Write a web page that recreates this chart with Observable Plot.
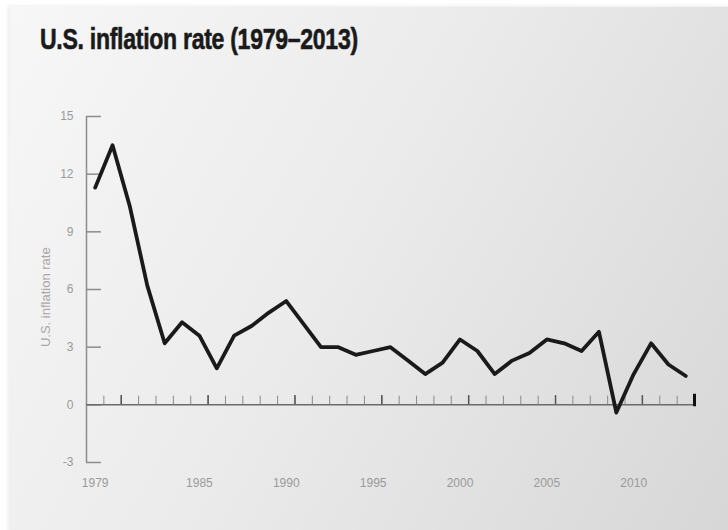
<!DOCTYPE html>
<html>
<head>
<meta charset="utf-8">
<script src="https://cdn.jsdelivr.net/npm/d3@7"></script>
<script src="https://cdn.jsdelivr.net/npm/@observablehq/plot@0.6"></script>
<style>
  html, body { margin: 0; padding: 0; background: #ffffff; }
  #page { position: relative; width: 728px; height: 530px; overflow: hidden; }
  #panel { position: absolute; left: 10px; top: 7px; width: 730px; height: 540px;
           background: linear-gradient(120deg, #f7f7f7 0%, #ebebeb 45%, #d6d6d6 100%);
           box-shadow: -2px -1px 4px rgba(0,0,0,0.08); }
  #title { position: absolute; left: 40px; top: 22px; margin: 0;
           font-family: "Liberation Sans", sans-serif;
           font-weight: bold; font-size: 30px; color: #1a1a1a; letter-spacing: -0.4px;
           transform: scaleX(0.77); transform-origin: left top; white-space: nowrap;
           -webkit-text-stroke: 0.6px #1a1a1a; }
  #chart { position: absolute; left: 0; top: 70px; }
</style>
</head>
<body>
<div id="page">
  <div id="panel"></div>
  <div id="title">U.S. inflation rate (1979–2013)</div>
  <div id="chart"></div>
</div>
<script>
const years = [1979,1980,1981,1982,1983,1984,1985,1986,1987,1988,1989,1990,1991,1992,1993,1994,1995,1996,1997,1998,1999,2000,2001,2002,2003,2004,2005,2006,2007,2008,2009,2010,2011,2012,2013];
const rates = [11.3,13.5,10.3,6.2,3.2,4.3,3.6,1.9,3.6,4.1,4.8,5.4,4.2,3.0,3.0,2.6,2.8,3.0,2.3,1.6,2.2,3.4,2.8,1.6,2.3,2.7,3.4,3.2,2.8,3.8,-0.4,1.6,3.2,2.1,1.5];
const xTickLabels = [1979,1985,1990,1995,2000,2005,2010];
const yTicks = [-3,0,3,6,9,12,15];
const yLabel = "U.S. inflation rate";

const data = years.map((year, i) => ({year, rate: rates[i]}));
const xMin = 1978.5, xMax = 2013.5;
const minorTicks = years.slice(0, -1).map(y => y + 0.5);
const majorTicks = minorTicks.filter(t => (t - 0.5) % 5 === 0);

const font = "'Liberation Sans', sans-serif";

const chart = Plot.plot({
  width: 728,
  height: 460,
  marginLeft: 86,
  marginRight: 34,
  marginTop: 46,
  marginBottom: 68,
  x: {domain: [xMin, xMax]},
  y: {domain: [-3, 15]},
  style: {background: "transparent", fontFamily: font, fontSize: "12px", overflow: "visible"},
  marks: [
    Plot.ruleX([xMin], {y1: -3, y2: 15, stroke: "#8c8c8c", strokeWidth: 1.5}),
    Plot.ruleY(yTicks, {y: d => d, x1: xMin, x2: xMin + 0.86, stroke: "#8c8c8c", strokeWidth: 1.5}),
    Plot.ruleY([0], {x1: xMin, x2: xMax, stroke: "#6a6a6a", strokeWidth: 1.5}),
    Plot.ruleX(minorTicks, {x: d => d, y1: 0, y2: 0.45, stroke: "#8a8a8a", strokeWidth: 1}),
    Plot.ruleX(majorTicks, {x: d => d, y1: 0, y2: 0.48, stroke: "#555", strokeWidth: 1.5}),
    Plot.ruleX([xMax], {y1: -0.1, y2: 0.55, stroke: "#111", strokeWidth: 3}),
    Plot.line(data, {x: "year", y: "rate", stroke: "#1a1a1a", strokeWidth: 3.8, strokeLinejoin: "round"}),
    Plot.axisY(yTicks, {tickSize: 0, tickPadding: 13, label: null, tickFormat: d => String(d), color: "#9a9a9a", fontSize: 12}),
    Plot.axisX(xTickLabels, {tickSize: 0, tickPadding: 16, label: null, tickFormat: d => String(d), color: "#9a9a9a", fontSize: 12}),
    Plot.text([yLabel], {x: xMin - 2.35, y: 5.6, text: d => d, rotate: -90, fill: "#a8a8a8", fontSize: 13})
  ]
});
document.getElementById("chart").appendChild(chart);
</script>
</body>
</html>
